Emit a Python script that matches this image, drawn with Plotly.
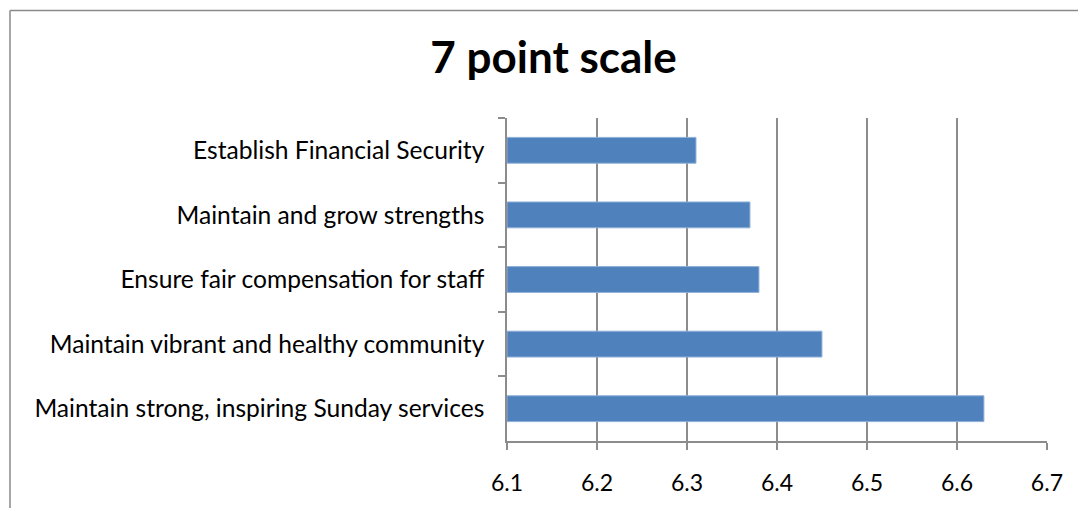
import plotly.graph_objects as go

categories = [
    "Establish Financial Security",
    "Maintain and grow strengths",
    "Ensure fair compensation for staff",
    "Maintain vibrant and healthy community",
    "Maintain strong, inspiring Sunday services",
]
values = [6.31, 6.37, 6.38, 6.45, 6.63]
axis_start = 6.1
tick_vals = [6.1, 6.2, 6.3, 6.4, 6.5, 6.6, 6.7]
tick_text = ["6.1", "6.2", "6.3", "6.4", "6.5", "6.6", "6.7"]
title_text = "7 point scale"

GRID = "#8c8c8c"
FONT = "Lato"

# page body has an 8px default margin; work in screen coords and shift
OFF = 8
W, H = 1086 - OFF, 508 - OFF
L, R, T, B = 507 - OFF, 39 - OFF + OFF, 118 - OFF, 62 - OFF + OFF
# plot area in screen: x 507..1047, y 118..446
L = 507 - OFF
T = 118 - OFF
pw = 1047 - 507
ph = 446 - 118
R = W - L - pw
B = H - T - ph

def px_x(p):
    return (p - OFF - L) / pw

def px_y(p):
    return (T + ph - (p - OFF)) / ph

fig = go.Figure(
    go.Bar(
        x=[v - axis_start for v in values],
        y=categories,
        orientation="h",
        base=axis_start,
        marker=dict(color="#4F81BD", line=dict(color="#8FB0D9", width=1)),
        width=0.4,
    )
)

fig.update_layout(
    width=W,
    height=H,
    margin=dict(l=L, r=R, t=T, b=B, pad=0),
    paper_bgcolor="white",
    plot_bgcolor="white",
    showlegend=False,
    title=dict(
        text="<b>" + title_text + "</b>",
        x=(553.5 - OFF) / W,
        xref="container",
        xanchor="center",
        y=1 - (58 - OFF) / H,
        yref="container",
        yanchor="middle",
        font=dict(family=FONT, size=44, color="black"),
    ),
    xaxis=dict(
        range=[6.1, 6.7001],
        tickvals=tick_vals,
        ticktext=tick_text,
        showgrid=True,
        gridcolor=GRID,
        gridwidth=1.5,
        showline=True,
        linecolor=GRID,
        linewidth=1.5,
        ticks="outside",
        ticklen=7,
        tickwidth=1.5,
        tickcolor=GRID,
        ticklabelstandoff=14,
        tickfont=dict(family=FONT, size=23, color="black"),
        zeroline=False,
    ),
    yaxis=dict(
        categoryorder="array",
        categoryarray=categories,
        autorange="reversed",
        showgrid=False,
        showline=True,
        linecolor=GRID,
        linewidth=1.5,
        ticks="outside",
        tickson="boundaries",
        ticklen=7,
        tickwidth=1.5,
        tickcolor=GRID,
        ticklabelstandoff=16,
        tickfont=dict(family=FONT, size=24.6, color="black"),
    ),
    shapes=[
        dict(
            type="line", xref="paper", yref="paper",
            x0=px_x(10), x1=px_x(10), y0=px_y(520), y1=px_y(OFF + 0.75),
            line=dict(color="#8a8a8a", width=1.5),
        ),
        dict(
            type="line", xref="paper", yref="paper",
            x0=px_x(10), x1=px_x(1100), y0=px_y(OFF + 0.75), y1=px_y(OFF + 0.75),
            line=dict(color="#8a8a8a", width=1.5),
        ),
    ],
)

fig.write_html("out.html")
